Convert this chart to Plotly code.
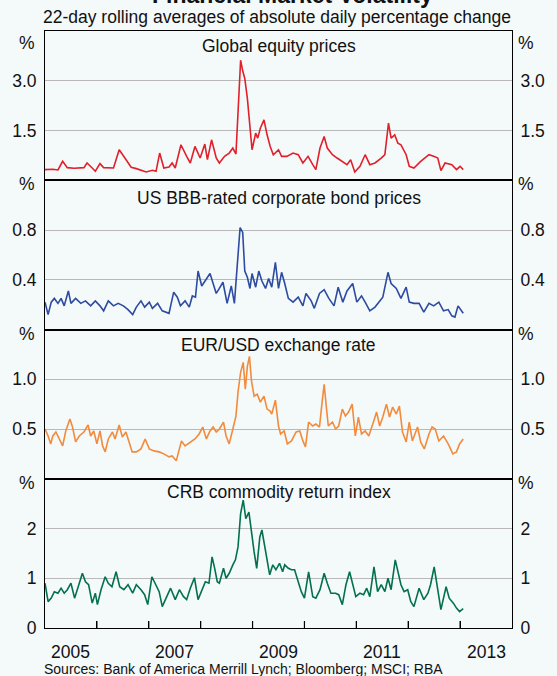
import plotly.graph_objects as go

# ---------------- data (22-day rolling average abs. daily % change) ----------------
eq_x = [2005.00,2005.15,2005.25,2005.34,2005.43,2005.56,2005.75,2005.81,2005.91,2005.97,
        2006.06,2006.13,2006.32,2006.43,2006.54,2006.66,2006.76,2006.95,2007.07,2007.14,
        2007.21,2007.29,2007.39,2007.45,2007.51,2007.62,2007.73,2007.80,2007.89,2007.99,
        2008.08,2008.13,2008.21,2008.30,2008.36,2008.46,2008.55,2008.62,2008.68,2008.72,
        2008.77,2008.81,2008.85,2008.90,2008.95,2008.99,2009.06,2009.10,2009.15,2009.22,
        2009.28,2009.34,2009.40,2009.50,2009.56,2009.66,2009.78,2009.88,2009.97,2010.07,
        2010.16,2010.22,2010.30,2010.38,2010.44,2010.54,2010.63,2010.73,2010.82,2010.89,
        2010.97,2011.07,2011.17,2011.26,2011.36,2011.48,2011.55,2011.62,2011.67,2011.74,
        2011.80,2011.86,2011.96,2012.02,2012.11,2012.24,2012.40,2012.49,2012.57,2012.63,
        2012.71,2012.84,2012.93,2013.00,2013.06]
eq_v = [0.32,0.33,0.31,0.57,0.38,0.36,0.38,0.52,0.37,0.27,
        0.50,0.38,0.37,0.92,0.67,0.39,0.35,0.25,0.30,0.27,
        0.82,0.37,0.40,0.52,0.37,1.07,0.72,0.52,1.02,0.67,
        1.09,0.62,1.22,0.67,0.52,0.72,0.82,0.97,0.79,2.07,
        3.62,3.30,3.07,2.47,1.57,0.92,1.42,1.27,1.57,1.82,
        1.37,1.02,0.77,0.92,0.72,0.72,0.82,0.77,0.52,0.72,
        0.47,0.32,0.97,1.32,0.97,0.77,0.67,0.57,0.47,0.62,
        0.25,0.42,0.77,0.47,0.52,0.67,0.77,1.72,1.27,1.37,
        1.12,1.07,0.77,0.42,0.37,0.57,0.77,0.72,0.67,0.29,
        0.52,0.47,0.32,0.42,0.32]

bond_x = [2005.00,2005.06,2005.12,2005.18,2005.25,2005.31,2005.37,2005.45,2005.50,2005.59,
          2005.69,2005.78,2005.88,2005.97,2006.06,2006.13,2006.22,2006.32,2006.41,2006.51,
          2006.60,2006.69,2006.76,2006.85,2006.92,2007.01,2007.07,2007.17,2007.26,2007.39,
          2007.48,2007.55,2007.61,2007.70,2007.78,2007.84,2007.90,2007.95,2008.02,2008.09,
          2008.18,2008.24,2008.30,2008.36,2008.43,2008.51,2008.59,2008.65,2008.72,2008.76,
          2008.81,2008.85,2008.90,2008.95,2008.99,2009.06,2009.12,2009.18,2009.25,2009.31,
          2009.37,2009.44,2009.50,2009.56,2009.62,2009.69,2009.78,2009.88,2009.97,2010.03,
          2010.13,2010.19,2010.29,2010.38,2010.47,2010.57,2010.65,2010.74,2010.82,2010.93,
          2011.01,2011.10,2011.17,2011.26,2011.36,2011.45,2011.51,2011.61,2011.67,2011.77,
          2011.86,2011.96,2012.02,2012.11,2012.21,2012.30,2012.40,2012.49,2012.59,2012.68,
          2012.77,2012.84,2012.90,2012.96,2013.06]
bond_v = [0.22,0.12,0.22,0.25,0.21,0.25,0.19,0.31,0.21,0.25,
          0.21,0.23,0.19,0.23,0.19,0.15,0.23,0.19,0.21,0.19,
          0.16,0.12,0.18,0.23,0.18,0.22,0.17,0.21,0.15,0.13,
          0.30,0.26,0.19,0.23,0.18,0.27,0.26,0.47,0.35,0.39,
          0.45,0.37,0.29,0.33,0.38,0.21,0.35,0.21,0.58,0.82,
          0.78,0.47,0.42,0.33,0.45,0.34,0.47,0.39,0.33,0.41,
          0.34,0.54,0.33,0.46,0.37,0.25,0.22,0.26,0.19,0.29,
          0.23,0.17,0.29,0.32,0.25,0.19,0.34,0.22,0.31,0.37,
          0.22,0.27,0.22,0.15,0.18,0.23,0.26,0.46,0.37,0.33,
          0.25,0.34,0.22,0.21,0.21,0.14,0.21,0.19,0.22,0.15,
          0.16,0.11,0.10,0.19,0.13]

fx_x = [2005.00,2005.06,2005.11,2005.15,2005.21,2005.28,2005.34,2005.40,2005.48,2005.53,
        2005.59,2005.66,2005.75,2005.83,2005.88,2005.94,2006.00,2006.06,2006.11,2006.16,
        2006.22,2006.30,2006.35,2006.43,2006.49,2006.56,2006.62,2006.68,2006.76,2006.85,
        2006.93,2007.01,2007.10,2007.20,2007.29,2007.39,2007.45,2007.53,2007.58,2007.63,
        2007.70,2007.80,2007.89,2007.97,2008.04,2008.11,2008.18,2008.24,2008.30,2008.36,
        2008.44,2008.49,2008.55,2008.62,2008.68,2008.72,2008.77,2008.82,2008.86,2008.90,
        2008.94,2008.98,2009.03,2009.09,2009.15,2009.22,2009.28,2009.34,2009.37,2009.44,
        2009.50,2009.54,2009.61,2009.67,2009.75,2009.84,2009.91,2009.97,2010.02,2010.08,
        2010.16,2010.22,2010.29,2010.34,2010.38,2010.42,2010.46,2010.54,2010.60,2010.66,
        2010.73,2010.79,2010.85,2010.92,2010.98,2011.04,2011.10,2011.17,2011.24,2011.33,
        2011.39,2011.45,2011.51,2011.58,2011.64,2011.70,2011.77,2011.83,2011.89,2011.96,
        2012.02,2012.08,2012.18,2012.24,2012.31,2012.40,2012.46,2012.52,2012.59,2012.68,
        2012.77,2012.86,2012.93,2012.99,2013.06]
fx_v = [0.50,0.43,0.35,0.43,0.47,0.40,0.33,0.48,0.60,0.52,
        0.37,0.43,0.47,0.54,0.43,0.48,0.35,0.48,0.33,0.27,
        0.40,0.47,0.40,0.54,0.42,0.47,0.37,0.27,0.27,0.30,
        0.40,0.30,0.28,0.27,0.25,0.22,0.23,0.18,0.28,0.38,
        0.33,0.37,0.40,0.45,0.52,0.40,0.48,0.52,0.47,0.50,
        0.57,0.43,0.35,0.50,0.63,0.87,1.07,1.17,0.90,1.13,
        1.23,0.98,0.83,0.85,0.77,0.83,0.70,0.68,0.65,0.79,
        0.53,0.45,0.48,0.35,0.38,0.47,0.48,0.38,0.32,0.57,
        0.53,0.55,0.52,0.77,0.95,0.73,0.53,0.57,0.50,0.53,
        0.70,0.63,0.67,0.75,0.43,0.62,0.45,0.48,0.43,0.57,
        0.67,0.53,0.62,0.75,0.62,0.72,0.65,0.73,0.47,0.37,
        0.57,0.38,0.52,0.37,0.30,0.45,0.52,0.50,0.38,0.43,
        0.35,0.25,0.27,0.35,0.40]

crb_x = [2005.00,2005.06,2005.12,2005.18,2005.25,2005.31,2005.37,2005.43,2005.50,2005.57,
         2005.64,2005.72,2005.78,2005.84,2005.91,2005.97,2006.01,2006.08,2006.16,2006.22,
         2006.29,2006.37,2006.44,2006.52,2006.60,2006.69,2006.76,2006.85,2006.92,2006.98,
         2007.06,2007.14,2007.20,2007.26,2007.34,2007.42,2007.51,2007.59,2007.67,2007.73,
         2007.80,2007.88,2007.95,2008.02,2008.09,2008.16,2008.22,2008.27,2008.32,2008.36,
         2008.44,2008.49,2008.55,2008.62,2008.67,2008.72,2008.77,2008.82,2008.87,2008.93,
         2008.98,2009.03,2009.08,2009.14,2009.18,2009.23,2009.28,2009.33,2009.39,2009.45,
         2009.52,2009.58,2009.62,2009.69,2009.75,2009.81,2009.88,2009.94,2010.00,2010.08,
         2010.16,2010.22,2010.30,2010.38,2010.44,2010.51,2010.60,2010.66,2010.73,2010.80,
         2010.87,2010.93,2010.99,2011.07,2011.14,2011.20,2011.26,2011.34,2011.41,2011.48,
         2011.55,2011.61,2011.67,2011.75,2011.80,2011.86,2011.92,2011.99,2012.05,2012.11,
         2012.21,2012.30,2012.38,2012.43,2012.50,2012.55,2012.63,2012.73,2012.79,2012.87,
         2012.93,2012.99,2013.06]
crb_v = [0.90,0.53,0.60,0.73,0.70,0.80,0.70,0.77,0.90,0.60,
         0.83,1.10,0.93,0.87,0.50,0.70,0.47,0.77,1.03,0.90,
         0.83,1.13,0.83,0.77,0.87,0.70,0.87,0.77,0.67,0.47,
         1.03,0.87,0.73,0.43,0.60,0.80,0.57,0.77,0.63,0.57,
         0.80,1.01,0.57,0.77,0.93,0.90,1.43,1.20,0.93,0.90,
         1.20,1.00,1.10,1.27,1.37,1.63,2.30,2.57,2.20,2.33,
         1.87,1.53,1.20,1.83,1.97,1.67,1.33,1.07,1.27,1.17,
         1.30,1.13,1.27,1.20,1.17,1.17,0.93,0.73,0.60,1.13,
         0.63,0.60,0.77,1.10,0.90,0.70,0.70,0.67,0.47,0.87,
         1.13,0.87,0.63,0.70,0.67,0.80,0.63,1.23,0.73,0.87,
         0.73,1.00,0.77,1.37,1.13,0.87,0.73,0.77,0.53,0.43,
         0.80,0.57,0.70,0.87,1.23,0.93,0.37,0.83,0.60,0.50,
         0.40,0.33,0.39]

panel_titles = ["Global equity prices", "US BBB-rated corporate bond prices",
                "EUR/USD exchange rate", "CRB commodity return index"]
panel_ranges = [[0, 4.5], [0, 1.2], [0, 1.5], [0, 3]]
panel_tickvals = [[1.5, 3.0], [0.4, 0.8], [0.5, 1.0], [0, 1, 2]]
panel_ticktext = [["1.5", "3.0"], ["0.4", "0.8"], ["0.5", "1.0"], ["0", "1", "2"]]
year_ticks = [2006, 2007, 2008, 2009, 2010, 2011, 2012, 2013]
year_label_pos = [2005.5, 2007.5, 2009.5, 2011.5, 2013.5]
year_labels = ["2005", "2007", "2009", "2011", "2013"]

series = [(eq_x, eq_v, "#E1202C"), (bond_x, bond_v, "#2D4BA0"),
          (fx_x, fx_v, "#F28B3C"), (crb_x, crb_v, "#037050")]

FONT = "Liberation Sans, Arial, sans-serif"
BG = "#F4F9FA"
FS = 17.5
TXT = "#111"

fig = go.Figure()
layout = {}
for i, (xs, ys, col) in enumerate(series):
    n = i + 1
    xa = "x" if n == 1 else f"x{n}"
    ya = "y" if n == 1 else f"y{n}"
    yr = f"y{n + 4}"
    fig.add_trace(go.Scatter(x=xs, y=ys, mode="lines", line=dict(color=col, width=1.6),
                             xaxis=xa, yaxis=ya, showlegend=False, hoverinfo="skip"))
    fig.add_trace(go.Scatter(x=xs, y=ys, mode="lines", line=dict(color="rgba(0,0,0,0)", width=0),
                             xaxis=xa, yaxis=yr, showlegend=False, hoverinfo="skip"))
    dom = [0.75 - 0.25 * i, 1.0 - 0.25 * i]
    common = dict(range=panel_ranges[i], tickvals=panel_tickvals[i], ticktext=panel_ticktext[i],
                  showline=True, linecolor="black", linewidth=1, ticks="",
                  tickfont=dict(family=FONT, size=FS, color=TXT), zeroline=False,
                  fixedrange=True, ticklabelstandoff=4)
    layout["yaxis" if n == 1 else f"yaxis{n}"] = dict(domain=dom, anchor=xa, side="left",
                                                      showgrid=True, gridcolor="#B9B9B9",
                                                      gridwidth=1, **common)
    layout[f"yaxis{n + 4}"] = dict(overlaying=ya, anchor=xa, side="right", showgrid=False, **common)
    layout["xaxis" if n == 1 else f"xaxis{n}"] = dict(
        domain=[0, 1], anchor=ya, range=[2005, 2014], showline=True, linecolor="black",
        linewidth=1, mirror=True, showgrid=False, zeroline=False, fixedrange=True,
        tickmode="array", tickvals=year_ticks, showticklabels=False,
        ticks="inside" if n == 4 else "", ticklen=7, tickwidth=1.2, tickcolor="black")

# year tick marks on the bottom axis (drawn through the x4 scale, inside the panel)
tick_shapes = [dict(type="line", xref="x4", yref="y4 domain", x0=t, x1=t, y0=0, y1=0.047,
                    line=dict(color="black", width=1.2), layer="above") for t in year_ticks]

ann = []
title_y = [0.9749, 0.7203, 0.4740, 0.2286]
for t, y in zip(panel_titles, title_y):
    ann.append(dict(text=t, x=0.5, y=y, xref="paper", yref="paper", showarrow=False,
                    xanchor="center", yanchor="middle", font=dict(family=FONT, size=FS, color=TXT)))
pct_y = [0.9799, 0.7437, 0.4925, 0.2429]
for y in pct_y:
    for xp in (-0.0378, 1.0294):
        ann.append(dict(text="%", x=xp, y=y, xref="paper", yref="paper", showarrow=False,
                        xanchor="center", yanchor="middle", font=dict(family=FONT, size=FS, color=TXT)))
for xv, lab in zip(year_label_pos, year_labels):
    ann.append(dict(text=lab, x=xv, y=-0.0402, xref="x4", yref="paper", showarrow=False,
                    xanchor="center", yanchor="middle", font=dict(family=FONT, size=FS, color=TXT)))
ann.append(dict(text="22-day rolling averages of absolute daily percentage change", x=0.4958, y=1.0235,
                xref="paper", yref="paper", showarrow=False, xanchor="center", yanchor="middle",
                font=dict(family=FONT, size=FS, color=TXT)))
ann.append(dict(text="<b>Financial Market Volatility</b>", x=0.53, y=1.0603,
                xref="paper", yref="paper", showarrow=False, xanchor="center", yanchor="middle",
                font=dict(family=FONT, size=23, color=TXT)))
ann.append(dict(text="Sources: Bank of America Merrill Lynch; Bloomberg; MSCI; RBA", x=-0.0063, y=-0.0690,
                xref="paper", yref="paper", showarrow=False, xanchor="left", yanchor="middle",
                font=dict(family=FONT, size=14, color=TXT)))

fig.update_layout(width=557, height=676, margin=dict(l=42, r=39, t=31, b=48),
                  paper_bgcolor=BG, plot_bgcolor=BG, annotations=ann, shapes=tick_shapes,
                  showlegend=False, **layout)

fig.write_html("out.html", config={"displayModeBar": False},
               post_script="document.body.style.margin='0';document.body.style.overflow='hidden';"
                           "document.body.style.background='" + BG + "';")
